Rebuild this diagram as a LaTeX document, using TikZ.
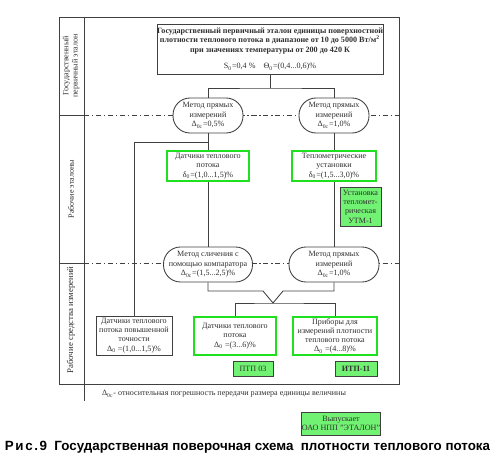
\documentclass[tikz,border=0pt]{standalone}
\usepackage{fontspec}
\setmainfont{Liberation Serif}
\newfontfamily\capfont{Liberation Sans}
\usetikzlibrary{positioning}
\definecolor{linegray}{HTML}{404040}
\definecolor{textgray}{HTML}{303030}
\definecolor{brightgreen}{HTML}{1EE01E}
\definecolor{fillgreen}{HTML}{72F272}
\newcommand{\schemefont}{\fontsize{4.6}{5.3}\selectfont}

\begin{document}
\begin{tikzpicture}[x=0.02cm, y=-0.02cm,
    every node/.style={font=\schemefont, text=textgray, align=center, inner sep=0pt},
    plainbox/.style={draw=linegray, fill=white, line width=0.5pt},
    greenbox/.style={draw=brightgreen, fill=white, line width=1.2pt},
    filledbox/.style={draw=linegray, fill=fillgreen, line width=0.5pt},
    methodbox/.style={draw=linegray, fill=white, line width=0.5pt, rounded corners=0.34cm, minimum height=0.7cm},
    link/.style={draw=linegray, line width=0.5pt},
    band/.style={draw=linegray, line width=0.4pt, dash pattern=on 3pt off 1.5pt on 0.8pt off 1.5pt}]
    \useasboundingbox (0,0) rectangle (500,462);

    % Frame and bands
    \draw[link] (59,17) rectangle (399,384);
    \draw[link] (84,17) -- (84,401);
    \draw[link] (59,115) -- (84,115);
    \draw[band] (84,115) -- (399,115);
    \draw[link] (59,263) -- (84,263);
    \draw[band] (84,263) -- (399,263);

    \node[rotate=90] at (71,66) (levelone) {Государственный\\первичный эталон};
    \node[rotate=90] at (71,189) (leveltwo) {Рабочие эталоны};
    \node[rotate=90, font=\fontsize{5}{6}\selectfont] at (71,320) (levelthree) {Рабочие средства измерений};

    % Nodes
    \node[plainbox, minimum width=4.48cm, minimum height=1cm] at (270,49) (etalon)
        {\textbf{Государственный первичный эталон единицы поверхностной}\\
         \textbf{плотности теплового потока в диапазоне от 10 до 5000 Вт/м\textsuperscript{2}}\\
         \textbf{при значениях температуры от 200 до 420 К}\\[4pt]
         S\textsubscript{0}=0,4 \%\quad Θ\textsubscript{0}=(0,4...0,6)\%};

    \node[methodbox, minimum width=1.4cm] at (208,115.5) (directA)
        {Метод прямых\\измерений\\Δ\textsubscript{0с}=0,5\%};
    \node[methodbox, minimum width=1.4cm] at (334,115.5) (directB)
        {Метод прямых\\измерений\\Δ\textsubscript{0с}=1,0\%};

    \node[greenbox, minimum width=1.64cm, minimum height=0.6cm] at (208,166) (sensorsA)
        {Датчики теплового\\потока\\δ\textsubscript{0}=(1,0...1,5)\%};
    \node[greenbox, minimum width=1.68cm, minimum height=0.6cm] at (334,166) (stands)
        {Теплометрические\\установки\\δ\textsubscript{0}=(1,5...3,0)\%};
    \node[filledbox, minimum width=0.82cm, minimum height=0.78cm] at (360.5,206.5) (utm)
        {Установка\\тепломет-\\рическая\\УТМ-1};

    \node[methodbox, minimum width=1.78cm] at (208,264.5) (compare)
        {Метод сличения с\\помощью компаратора\\Δ\textsubscript{0с}=(1,5...2,5)\%};
    \node[methodbox, minimum width=1.8cm] at (334,264.5) (directC)
        {Метод прямых\\измерений\\Δ\textsubscript{0с}=1,0\%};

    \node[plainbox, minimum width=1.52cm, minimum height=0.78cm] at (134,335.5) (precise)
        {Датчики теплового\\потока повышенной\\точности\\Δ\textsubscript{0} =(1,0...1,5)\%};
    \node[greenbox, minimum width=1.64cm, minimum height=0.76cm] at (235,336) (sensorsB)
        {Датчики теплового\\потока\\Δ\textsubscript{0} =(3...6)\%};
    \node[greenbox, minimum width=1.68cm, minimum height=0.76cm] at (335,336) (meters)
        {Приборы для\\измерений плотности\\теплового потока\\Δ\textsubscript{0} =(4...8)\%};

    \node[filledbox, minimum width=0.8cm, minimum height=0.3cm] at (253,368.5) (ptp) {ПТП 03};
    \node[filledbox, minimum width=0.84cm, minimum height=0.3cm] at (356,368.5) (itp) {\textbf{ИТП-11}};

    \node at (224,394) (legend)
        {Δ\textsubscript{0с}- относительная погрешность передачи размера единицы величины};
    \node[filledbox, minimum width=1.56cm, minimum height=0.46cm] at (341,423.5) (maker)
        {Выпускает\\ОАО НПП "ЭТАЛОН"};
    \node[text=black, font=\capfont\bfseries\fontsize{7.6}{9}\selectfont] at (247.5,447) (caption)
        {{\addfontfeature{LetterSpace=12}Рис.9}~~Государственная поверочная схема~~плотности теплового потока};

    % Edges
    \coordinate (splitTop) at (270,88);
    \coordinate (branch) at (208,142);
    \coordinate (kneeL) at (263,291);
    \coordinate (kneeR) at (283,291);
    \coordinate (merge) at (273,303);

    \draw[link] (etalon.south) -- (splitTop);
    \draw[link] (directA.north) |- (splitTop) -| (directB.north);
    \draw[link] (directA) -- (sensorsA);
    \draw[link] (branch) -| (precise.north);
    \draw[link] (directB) -- (stands);
    \draw[link] (sensorsA) -- (compare);
    \draw[link] (stands) -- (directC);
    \draw[link] (compare.south) |- (kneeL) -- (merge);
    \draw[link] (directC.south) |- (kneeR) -- (merge);
    \draw[link] (sensorsB.north) |- (merge) -| (meters.north);
\end{tikzpicture}
\end{document}
